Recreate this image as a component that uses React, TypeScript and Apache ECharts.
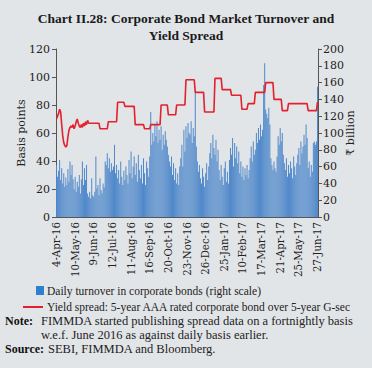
import React, { useEffect, useRef } from "react";
import * as echarts from "echarts";

const dateLabels = [
  "4-Apr-16", "10-May-16", "9-Jun-16", "12-Jul-16", "11-Aug-16", "16-Sep-16", "20-Oct-16",
  "23-Nov-16", "26-Dec-16", "25-Jan-17", "10-Feb-17", "17-Mar-17", "21-Apr-17", "25-May-17", "27-Jun-17",
];
const labelStep = 18;

const turnover = [
  62, 48, 55, 68, 44, 58, 40, 52, 36, 47,
  38, 57, 42, 66, 50, 62, 45, 33, 48, 30,
  42, 36, 50, 28, 45, 66, 38, 58, 44, 62,
  28, 24, 30, 22, 46, 26, 24, 30, 72, 34,
  38, 26, 46, 32, 28, 40, 35, 66, 62, 76,
  58, 70, 54, 64, 56, 60, 86, 52, 62, 46,
  56, 40, 66, 48, 38, 55, 44, 60, 50, 40,
  68, 52, 78, 46, 60, 72, 50, 64, 42, 74,
  56, 46, 62, 40, 70, 52, 38, 66, 58, 48,
  72, 125, 86, 100, 90, 110, 96, 114, 88, 104,
  92, 108, 80, 98, 86, 102, 92, 84, 74, 66,
  60, 72, 50, 64, 44, 58, 40, 52, 38, 60,
  70, 86, 60, 104, 78, 108, 94, 112, 100, 98,
  114, 88, 106, 96, 150, 84, 66, 54, 62, 46,
  40, 58, 48, 36, 52, 64, 44, 60, 76, 88,
  70, 98, 82, 74, 92, 66, 80, 56, 44, 62,
  48, 38, 58, 66, 42, 54, 40, 68, 82, 74,
  94, 60, 88, 70, 84, 64, 78, 52, 66, 48,
  60, 44, 58, 50, 62, 46, 56, 70, 84, 66,
  90, 74, 80, 100, 88, 106, 92, 110, 96, 104,
  157, 183, 128, 123, 118, 130, 110, 70, 62, 56,
  66, 58, 54, 72, 96, 86, 106, 90, 100, 74,
  64, 56, 70, 48, 62, 52, 66, 58, 46, 72,
  60, 50, 64, 74, 82, 62, 90, 76, 84, 98,
  86, 110, 94, 58, 66, 48, 62, 54, 88, 90,
  86, 90, 155,
];

const spread = [
  70, 72, 74, 77, 75, 66, 58, 53, 51, 50,
  51, 57, 62, 64, 65, 64, 66, 63, 65, 68,
  70, 67, 65, 64, 66, 64, 67, 65, 68, 66,
  69, 67, 67, 67, 67, 67, 67, 67, 67, 67,
  67, 67, 63, 63, 63, 63, 63, 63, 63, 63,
  68, 68, 68, 68, 68, 68, 68, 68, 68, 82,
  82, 82, 82, 82, 82, 82, 79, 79, 79, 79,
  79, 79, 79, 79, 79, 79, 66, 66, 66, 66,
  66, 66, 66, 66, 66, 63, 63, 63, 63, 63,
  63, 66, 66, 66, 66, 66, 66, 66, 66, 66,
  66, 80, 80, 80, 80, 80, 80, 80, 73, 73,
  73, 73, 73, 73, 73, 73, 80, 80, 80, 80,
  80, 80, 80, 80, 80, 98, 98, 98, 98, 98,
  98, 98, 98, 98, 89, 89, 89, 89, 89, 89,
  89, 89, 89, 75, 75, 75, 75, 75, 75, 75,
  75, 75, 75, 99, 99, 99, 99, 99, 99, 99,
  91, 91, 91, 91, 91, 91, 91, 91, 91, 87,
  87, 87, 87, 87, 87, 87, 87, 87, 87, 77,
  77, 77, 77, 77, 77, 81, 81, 81, 81, 81,
  81, 81, 89, 89, 89, 89, 89, 89, 89, 89,
  89, 89, 96, 96, 96, 96, 96, 96, 96, 96,
  84, 84, 84, 84, 84, 84, 84, 84, 76, 76,
  76, 76, 76, 76, 81, 81, 81, 81, 81, 81,
  81, 81, 81, 81, 81, 81, 81, 81, 81, 81,
  81, 81, 81, 76, 76, 76, 76, 76, 76, 76,
  76, 76, 82,
];

const SERIF = "'DejaVu Serif', 'Liberation Serif', serif";
const TIMES = "'Liberation Serif', serif";

export default function App() {
  const ref = useRef<HTMLDivElement>(null);
  useEffect(() => {
    if (!ref.current) return;
    const chart = echarts.init(ref.current, null, { renderer: "svg" });
    const categories = turnover.map((_, i) =>
      i % labelStep === 0 ? dateLabels[i / labelStep] ?? "" : ""
    );
    const showIdx = (i: number) => i % labelStep === 0;
    chart.setOption({
      animation: false,
      backgroundColor: "#e2e5e8",
      title: {
        text: "Chart II.28: Corporate Bond Market Turnover and\nYield Spread",
        left: "center",
        top: 5,
        textStyle: {
          fontFamily: TIMES,
          fontWeight: "bold",
          fontSize: 13.5,
          lineHeight: 17,
          color: "#1a1a1a",
        },
      },
      grid: { left: 56, right: 54, top: 49, bottom: 151 },
      xAxis: {
        type: "category",
        data: categories,
        boundaryGap: true,
        axisLine: { lineStyle: { color: "#555", width: 1 } },
        axisTick: { interval: (i: number) => showIdx(i), alignWithLabel: true, length: 4, lineStyle: { color: "#555" } },
        axisLabel: {
          interval: (i: number) => showIdx(i),
          rotate: 90,
          fontFamily: SERIF,
          fontSize: 10.2,
          color: "#222",
          margin: 5,
        },
      },
      yAxis: [
        {
          type: "value",
          min: 0,
          max: 120,
          interval: 20,
          name: "Basis points",
          nameLocation: "middle",
          nameGap: 29,
          nameMoveOverlap: false,
          nameTextStyle: { fontFamily: SERIF, fontSize: 11, color: "#222" },
          axisLine: { show: true, lineStyle: { color: "#555" } },
          axisTick: { show: true, length: 4, lineStyle: { color: "#555" } },
          splitLine: { show: false },
          axisLabel: { fontFamily: SERIF, fontSize: 11, color: "#222", margin: 6 },
        },
        {
          type: "value",
          min: 0,
          max: 200,
          interval: 20,
          position: "right",
          name: "₹ billion",
          nameLocation: "middle",
          nameGap: 27,
          nameRotate: 90,
          nameMoveOverlap: false,
          nameTextStyle: { fontFamily: SERIF, fontSize: 11, color: "#222" },
          axisLine: { show: true, lineStyle: { color: "#555" } },
          axisTick: { show: true, length: 4, lineStyle: { color: "#555" } },
          splitLine: { show: false },
          axisLabel: { fontFamily: SERIF, fontSize: 11, color: "#222", margin: 5 },
        },
      ],
      series: [
        {
          name: "Daily turnover in corporate bonds (right scale)",
          type: "bar",
          yAxisIndex: 1,
          data: turnover,
          barCategoryGap: "25%",
          itemStyle: { color: "#4f88ca" },
        },
        {
          name: "Yield spread: 5-year AAA rated corporate bond over 5-year G-sec",
          type: "line",
          yAxisIndex: 0,
          data: spread,
          showSymbol: false,
          lineStyle: { color: "#e3202b", width: 1.6 },
          z: 5,
        },
      ],
      graphic: [
        { type: "rect", shape: { x: 36, y: 286, width: 8, height: 9 }, style: { fill: "#2f7fd0" } },
        {
          type: "text",
          x: 47,
          y: 291,
          style: { text: "Daily turnover in corporate bonds (right scale)", fontFamily: TIMES, fontSize: 11.5, fill: "#222", verticalAlign: "middle" },
        },
        { type: "line", shape: { x1: 23, y1: 307, x2: 43, y2: 307 }, style: { stroke: "#e3202b", lineWidth: 2 } },
        {
          type: "text",
          x: 47,
          y: 307,
          style: { text: "Yield spread: 5-year AAA rated corporate bond over 5-year G-sec", fontFamily: TIMES, fontSize: 11.5, fill: "#222", verticalAlign: "middle" },
        },
        {
          type: "text",
          x: 5,
          y: 321,
          style: { text: "Note:", fontFamily: TIMES, fontSize: 12, fontWeight: "bold", fill: "#111", verticalAlign: "middle" },
        },
        {
          type: "text",
          x: 41,
          y: 321,
          style: { text: "FIMMDA started publishing spread data on a fortnightly basis", fontFamily: TIMES, fontSize: 12.5, fill: "#222", verticalAlign: "middle" },
        },
        {
          type: "text",
          x: 41,
          y: 335,
          style: { text: "w.e.f. June 2016 as against daily basis earlier.", fontFamily: TIMES, fontSize: 12.5, fill: "#222", verticalAlign: "middle" },
        },
        {
          type: "text",
          x: 5,
          y: 349,
          style: { text: "Source:", fontFamily: TIMES, fontSize: 12, fontWeight: "bold", fill: "#111", verticalAlign: "middle" },
        },
        {
          type: "text",
          x: 48,
          y: 349,
          style: { text: "SEBI, FIMMDA and Bloomberg.", fontFamily: TIMES, fontSize: 12.5, fill: "#222", verticalAlign: "middle" },
        },
      ],
    });
    return () => chart.dispose();
  }, []);
  return <div ref={ref} style={{ position: "fixed", left: 0, top: 0, width: 372, height: 368 }} />;
}
